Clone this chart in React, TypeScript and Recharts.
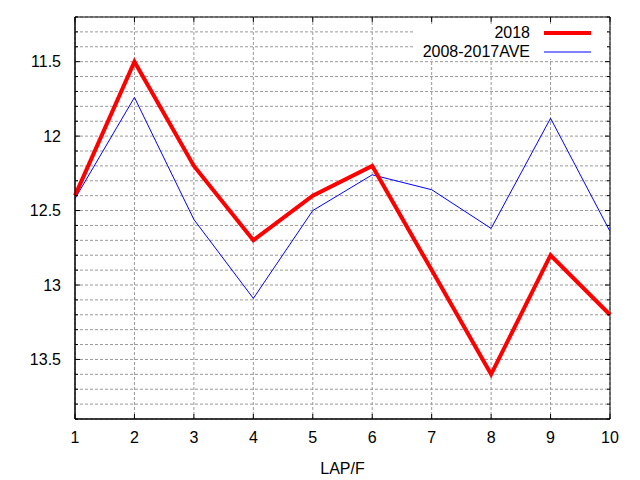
import { LineChart, Line, XAxis, YAxis, CartesianGrid, ReferenceArea } from 'recharts';

// Lap numbers and lap times (seconds)
const laps = [1, 2, 3, 4, 5, 6, 7, 8, 9, 10];
const times2018 = [12.4, 11.5, 12.2, 12.7, 12.4, 12.2, 12.9, 13.6, 12.8, 13.2];
const timesAve = [12.42, 11.74, 12.56, 13.09, 12.5, 12.26, 12.36, 12.62, 11.88, 12.64];

const yTicks = [
    11.2, 11.3, 11.4, 11.5, 11.6, 11.7, 11.8, 11.9, 12, 12.1, 12.2, 12.3, 12.4, 12.5,
    12.6, 12.7, 12.8, 12.9, 13, 13.1, 13.2, 13.3, 13.4, 13.5, 13.6, 13.7, 13.8, 13.9
];

const W = 640;
const H = 480;
const PLOT = { left: 75, top: 17, right: 610, bottom: 419 };
const FONT = '"Liberation Sans", Arial, sans-serif';
const FS = 16;

const data = laps.map((lap, i) => ({
    lap,
    y2018: times2018[i],
    ave: timesAve[i]
}));

const isMajor = (v: number) => Math.abs(v * 2 - Math.round(v * 2)) < 1e-6;

function YTick(props: any) {
    const { x, y, payload } = props;
    const v = payload.value as number;
    const len = isMajor(v) ? 5 : 3;
    const right = PLOT.right;
    return (
        <g>
            <line x1={x} y1={y} x2={x + len} y2={y} stroke="#000" />
            <line x1={right} y1={y} x2={right - len} y2={y} stroke="#000" />
            {isMajor(v) && (
                <text x={x - 14} y={y} textAnchor="end" dominantBaseline="central" fontSize={FS} fontFamily={FONT} fill="#000">
                    {String(v)}
                </text>
            )}
        </g>
    );
}

function XTick(props: any) {
    const { x, y, payload } = props;
    return (
        <g>
            <line x1={x} y1={y} x2={x} y2={y - 5} stroke="#000" />
            <line x1={x} y1={PLOT.top} x2={x} y2={PLOT.top + 5} stroke="#000" />
            <text x={x} y={y + 18} textAnchor="middle" dominantBaseline="central" fontSize={FS} fontFamily={FONT} fill="#000">
                {payload.value}
            </text>
        </g>
    );
}

function KeyBox() {
    const rowStyle = { position: 'absolute' as const, right: 77, fontSize: FS, fontFamily: FONT, lineHeight: '18px', whiteSpace: 'nowrap' as const };
    return (
        <div style={{ position: 'absolute', left: 413, top: 24, width: 194, height: 35, background: '#fff' }}>
            <div style={{ ...rowStyle, top: 0 }}>2018</div>
            <div style={{ ...rowStyle, top: 19 }}>2008-2017AVE</div>
            <svg width={194} height={35} style={{ position: 'absolute', left: 0, top: 0 }}>
                <line x1={131} y1={9} x2={178} y2={9} stroke="#ff0000" strokeWidth={4} />
                <line x1={131} y1={28} x2={178} y2={28} stroke="#0000ff" strokeWidth={1} />
            </svg>
        </div>
    );
}

export default function App() {
    return (
        <div style={{ position: 'absolute', left: 0, top: 0, width: W, height: H, background: '#fff' }}>
            <LineChart width={W} height={H} data={data} margin={{ top: PLOT.top, right: W - PLOT.right, bottom: 0, left: 0 }}>
                <CartesianGrid stroke="#999999" strokeDasharray="3 2" />
                <XAxis
                    dataKey="lap"
                    type="number"
                    domain={[1, 10]}
                    ticks={laps}
                    height={H - PLOT.bottom}
                    axisLine={{ stroke: '#000' }}
                    tickLine={false}
                    tickSize={0}
                    tickMargin={0}
                    tick={<XTick />}
                    label={{ value: 'LAP/F', position: 'insideBottom', offset: 6, fontSize: FS, fontFamily: FONT, fill: '#000' }}
                />
                <YAxis
                    type="number"
                    domain={[11.2, 13.9]}
                    reversed
                    allowDataOverflow
                    ticks={yTicks}
                    interval={0}
                    width={PLOT.left}
                    axisLine={{ stroke: '#000' }}
                    tickLine={false}
                    tickSize={0}
                    tickMargin={0}
                    tick={<YTick />}
                />
                <ReferenceArea x1={1} x2={10} y1={11.2} y2={13.9} fill="none" stroke="#000" strokeWidth={1} />
                <Line dataKey="ave" stroke="#0000ff" strokeWidth={1} dot={false} isAnimationActive={false} />
                <Line dataKey="y2018" stroke="#ff0000" strokeWidth={4} dot={false} isAnimationActive={false} />
            </LineChart>
            <KeyBox />
        </div>
    );
}
